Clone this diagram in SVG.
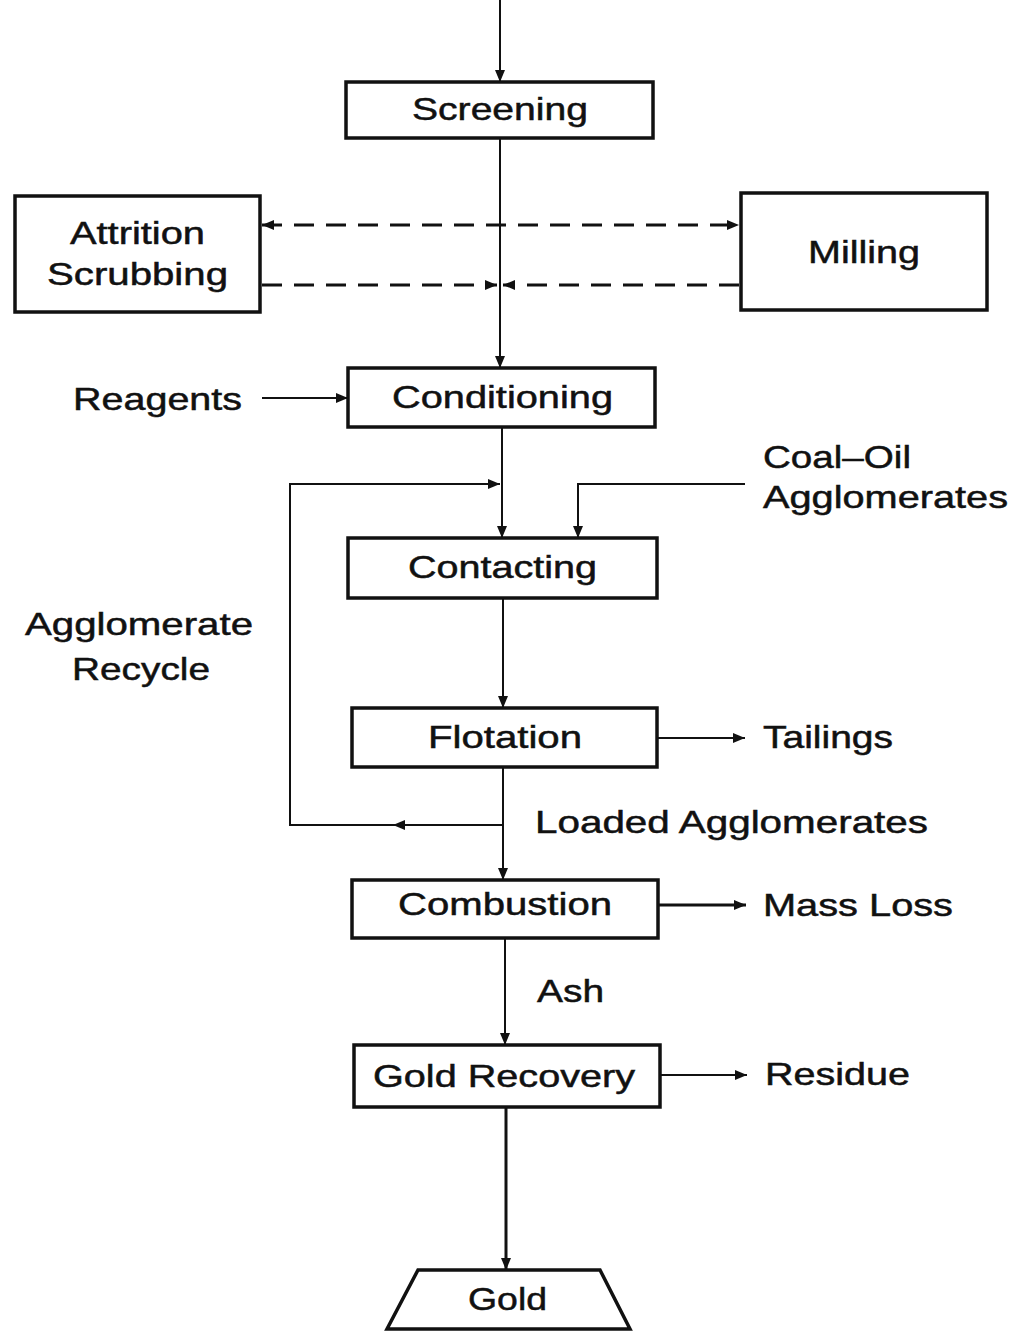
<svg xmlns="http://www.w3.org/2000/svg" width="1015" height="1332" viewBox="0 0 1015 1332">
<style>
.box{fill:#fff;stroke:#111;stroke-width:3.5}
.ln{fill:none;stroke:#111;stroke-width:2}
.thick{stroke-width:3}
.dash{fill:none;stroke:#111;stroke-width:3;stroke-dasharray:20 12}
text{font-family:"Liberation Sans",Arial,sans-serif;font-size:32px;fill:#111;stroke:#111;stroke-width:0.5}
</style>
<defs>
<marker id="ah" markerUnits="userSpaceOnUse" markerWidth="12" markerHeight="10" refX="12" refY="5" orient="auto-start-reverse">
<path d="M0,0 L12,5 L0,10 z" fill="#111"/>
</marker>
</defs>
<rect width="1015" height="1332" fill="#fff"/>
<g id="connectors">
<path class="ln" d="M500,0 V82" marker-end="url(#ah)"/>
<path class="ln" d="M500,138 V368" marker-end="url(#ah)"/>
<path class="dash" d="M262,225 H739" marker-start="url(#ah)" marker-end="url(#ah)"/>
<path class="dash" d="M262,285 H497" marker-end="url(#ah)"/>
<path class="dash" d="M739,285 H503" marker-end="url(#ah)"/>
<path class="ln" d="M262,398 H348" marker-end="url(#ah)"/>
<path class="ln" d="M502,427 V538" marker-end="url(#ah)"/>
<path class="ln" d="M503,825 H393" marker-end="url(#ah)"/>
<path class="ln" d="M400,825 H290 V484 H500" marker-end="url(#ah)"/>
<path class="ln" d="M745,484 H578 V538" marker-end="url(#ah)"/>
<path class="ln" d="M503,598 V708" marker-end="url(#ah)"/>
<path class="ln" d="M657,738 H745" marker-end="url(#ah)"/>
<path class="ln" d="M503,767 V880" marker-end="url(#ah)"/>
<path class="ln thick" d="M658,905 H746" marker-end="url(#ah)"/>
<path class="ln" d="M505,938 V1045" marker-end="url(#ah)"/>
<path class="ln" d="M660,1075 H747" marker-end="url(#ah)"/>
<path class="ln thick" d="M506,1107 V1270" marker-end="url(#ah)"/>
</g>
<g id="screening"><rect class="box" x="346" y="82" width="307" height="56"/><text x="412" y="120" textLength="176" lengthAdjust="spacingAndGlyphs">Screening</text></g>
<g id="attrition"><rect class="box" x="15" y="196" width="245" height="116"/><text x="70" y="244" textLength="135" lengthAdjust="spacingAndGlyphs">Attrition</text><text x="47" y="285" textLength="181" lengthAdjust="spacingAndGlyphs">Scrubbing</text></g>
<g id="milling"><rect class="box" x="741" y="193" width="246" height="117"/><text x="808" y="263" textLength="112" lengthAdjust="spacingAndGlyphs">Milling</text></g>
<g id="reagents"><text x="73" y="410" textLength="169" lengthAdjust="spacingAndGlyphs">Reagents</text></g>
<g id="conditioning"><rect class="box" x="348" y="368" width="307" height="59"/><text x="392" y="408" textLength="221" lengthAdjust="spacingAndGlyphs">Conditioning</text></g>
<g id="coal-oil"><text x="763" y="468" textLength="148" lengthAdjust="spacingAndGlyphs">Coal–Oil</text><text x="763" y="508" textLength="245" lengthAdjust="spacingAndGlyphs">Agglomerates</text></g>
<g id="contacting"><rect class="box" x="348" y="538" width="309" height="60"/><text x="408" y="578" textLength="189" lengthAdjust="spacingAndGlyphs">Contacting</text></g>
<g id="recycle-label"><text x="25" y="635" textLength="228" lengthAdjust="spacingAndGlyphs">Agglomerate</text><text x="72" y="680" textLength="138" lengthAdjust="spacingAndGlyphs">Recycle</text></g>
<g id="flotation"><rect class="box" x="352" y="708" width="305" height="59"/><text x="428" y="748" textLength="154" lengthAdjust="spacingAndGlyphs">Flotation</text></g>
<g id="tailings"><text x="763" y="748" textLength="130" lengthAdjust="spacingAndGlyphs">Tailings</text></g>
<g id="loaded"><text x="535" y="833" textLength="393" lengthAdjust="spacingAndGlyphs">Loaded Agglomerates</text></g>
<g id="combustion"><rect class="box" x="352" y="880" width="306" height="58"/><text x="398" y="915" textLength="214" lengthAdjust="spacingAndGlyphs">Combustion</text></g>
<g id="massloss"><text x="763" y="916" textLength="190" lengthAdjust="spacingAndGlyphs">Mass Loss</text></g>
<g id="ash"><text x="537" y="1002" textLength="67" lengthAdjust="spacingAndGlyphs">Ash</text></g>
<g id="goldrecovery"><rect class="box" x="354" y="1045" width="306" height="62"/><text x="373" y="1087" textLength="262" lengthAdjust="spacingAndGlyphs">Gold Recovery</text></g>
<g id="residue"><text x="765" y="1085" textLength="145" lengthAdjust="spacingAndGlyphs">Residue</text></g>
<g id="gold"><path class="box" d="M418,1270 H600 L630,1329 H387 Z"/><text x="468" y="1310" textLength="79" lengthAdjust="spacingAndGlyphs">Gold</text></g>
</svg>
